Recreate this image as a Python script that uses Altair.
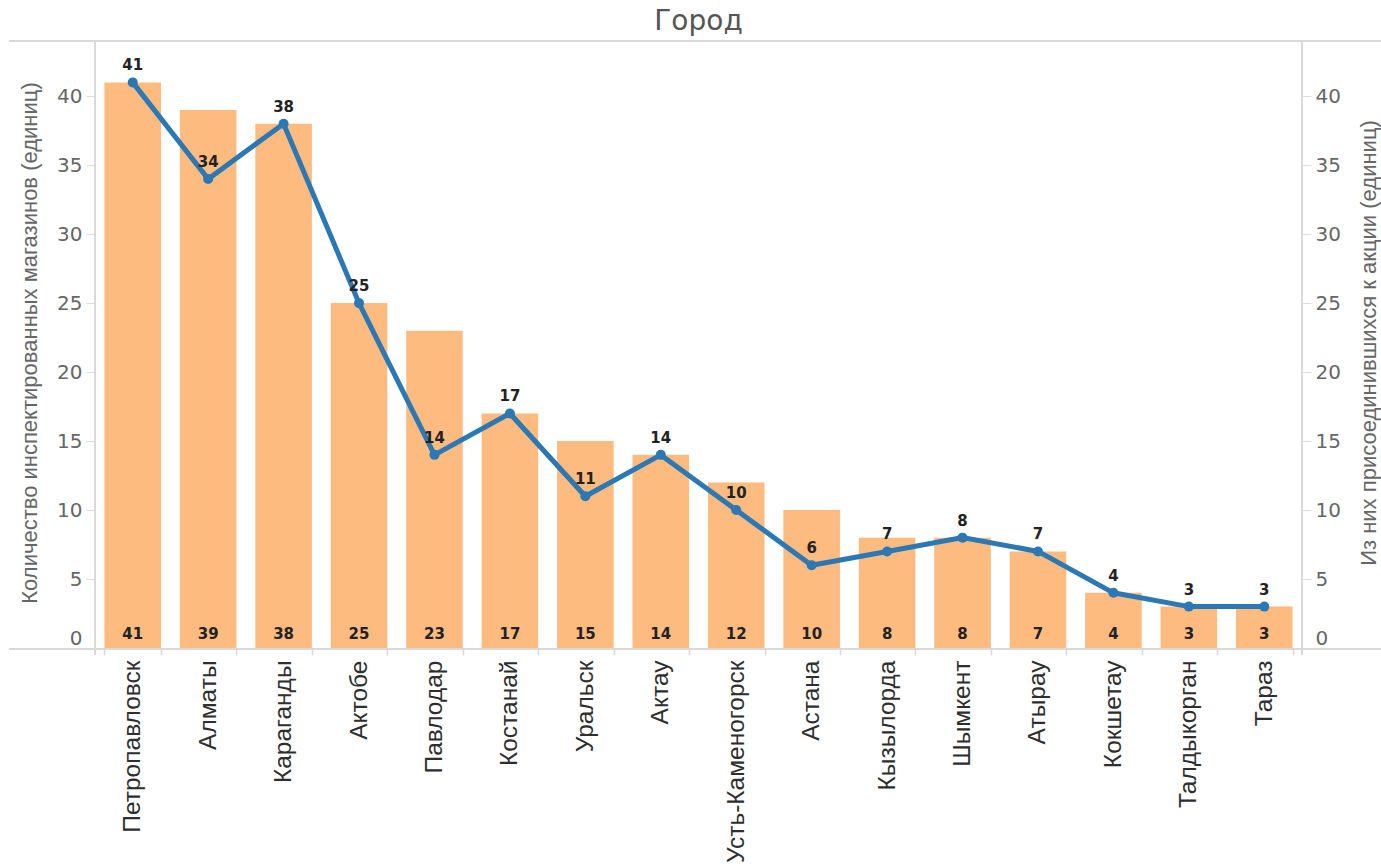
import altair as alt
import pandas as pd

# City names, inspected stores and stores that joined the campaign
cities = [
    "Петропавловск", "Алматы", "Караганды", "Актобе", "Павлодар", "Костанай",
    "Уральск", "Актау", "Усть-Каменогорск", "Астана", "Кызылорда", "Шымкент",
    "Атырау", "Кокшетау", "Талдыкорган", "Тараз",
]
inspected = [41, 39, 38, 25, 23, 17, 15, 14, 12, 10, 8, 8, 7, 4, 3, 3]
joined = [41, 34, 38, 25, 14, 17, 11, 14, 10, 6, 7, 8, 7, 4, 3, 3]

df = pd.DataFrame({"city": cities, "inspected": inspected, "joined": joined})

W, H = 1207, 607
FRAME = "#d9d9d9"
AXIS_TXT = "#666666"
BAR = "#fdbb80"
LINE = "#2b78b4"
WIDE = "DejaVu Sans"
SANS = "Liberation Sans"
LEFT_TITLE = "Количество инспектированных магазинов (единиц)"
RIGHT_TITLE = "Из них присоединившихся к акции (единиц)"

x_enc = alt.X(
    "city:N", sort=cities, title=None,
    scale=alt.Scale(paddingInner=0.25, paddingOuter=0.125),
    axis=alt.Axis(
        labelAngle=270, labelAlign="right", labelBaseline="middle",
        labelFont=SANS, labelFontSize=24.5, labelColor="#2e2e2e",
        labelPadding=5, tickBand="extent", tickSize=7, tickColor=FRAME, tickWidth=1.5,
        domain=False, labelLimit=400,
    ),
)

y_scale = alt.Scale(domain=[0, 44], nice=False, zero=True)
ticks = list(range(0, 41, 5))

common_axis = dict(
    values=ticks, grid=False, domain=False,
    tickSize=9, tickColor="#dddddd", labelFontSize=20, labelColor=AXIS_TXT,
    labelFont=WIDE, labelPadding=4, labelFlush=True,
    titleFontSize=22, titleColor=AXIS_TXT, titleFontWeight="normal",
    titleFont=SANS, titleAngle=270, titleBaseline="middle", titleAlign="center",
    titleY=H / 2 - 2,
)
left_axis = alt.Axis(orient="left", title=LEFT_TITLE, titleX=-66, **common_axis)
right_axis = alt.Axis(orient="right", title=RIGHT_TITLE, titleX=66, **common_axis)

base = alt.Chart(df)

bars = base.mark_bar(color=BAR).encode(
    x=x_enc,
    y=alt.Y("inspected:Q", scale=y_scale, axis=left_axis),
)
bar_labels = base.mark_text(
    baseline="middle", dy=-14, fontSize=15, fontWeight="bold", color="#222222",
    font=WIDE,
).encode(
    x=alt.X("city:N", sort=cities),
    y=alt.datum(0),
    text="inspected:Q",
)
left = alt.layer(bars, bar_labels)

line = base.mark_line(color=LINE, strokeWidth=5).encode(
    x=alt.X("city:N", sort=cities),
    y=alt.Y("joined:Q", scale=y_scale, axis=right_axis),
)
points = base.mark_circle(color=LINE, size=100, opacity=1).encode(
    x=alt.X("city:N", sort=cities),
    y=alt.Y("joined:Q"),
)
line_labels = base.mark_text(
    baseline="middle", dy=-17, fontSize=15, fontWeight="bold", color="#222222",
    font=WIDE,
).encode(
    x=alt.X("city:N", sort=cities),
    y=alt.Y("joined:Q"),
    text="joined:Q",
)
right = alt.layer(line, points, line_labels)

# Frame lines spanning the full width, plus the two vertical axis lines
frame_top = alt.Chart(df).mark_rule(color=FRAME, strokeWidth=2).encode(
    x=alt.value(-86), x2=alt.value(W + 79), y=alt.value(0)
)
frame_bottom = alt.Chart(df).mark_rule(color=FRAME, strokeWidth=2).encode(
    x=alt.value(-86), x2=alt.value(W + 79), y=alt.value(H + 1)
)
frame_left = alt.Chart(df).mark_rule(color=FRAME, strokeWidth=1.5).encode(
    x=alt.value(0), y=alt.value(0), y2=alt.value(H + 7)
)
frame_right = alt.Chart(df).mark_rule(color=FRAME, strokeWidth=1.5).encode(
    x=alt.value(W), y=alt.value(0), y2=alt.value(H + 7)
)

chart = alt.layer(
    left, right, frame_top, frame_bottom, frame_left, frame_right
).resolve_scale(y="independent").properties(
    width=W, height=H,
    title=alt.TitleParams(
        "Город", anchor="middle", frame="group", fontSize=28, color="#555555",
        font=WIDE, fontWeight="normal", offset=4,
    ),
    autosize=alt.AutoSizeParams(type="none"),
    padding={"left": 95, "top": 41, "right": 79, "bottom": 216},
).configure_view(stroke=None)

chart.save("out.html", embed_options={"renderer": "svg", "actions": False})
